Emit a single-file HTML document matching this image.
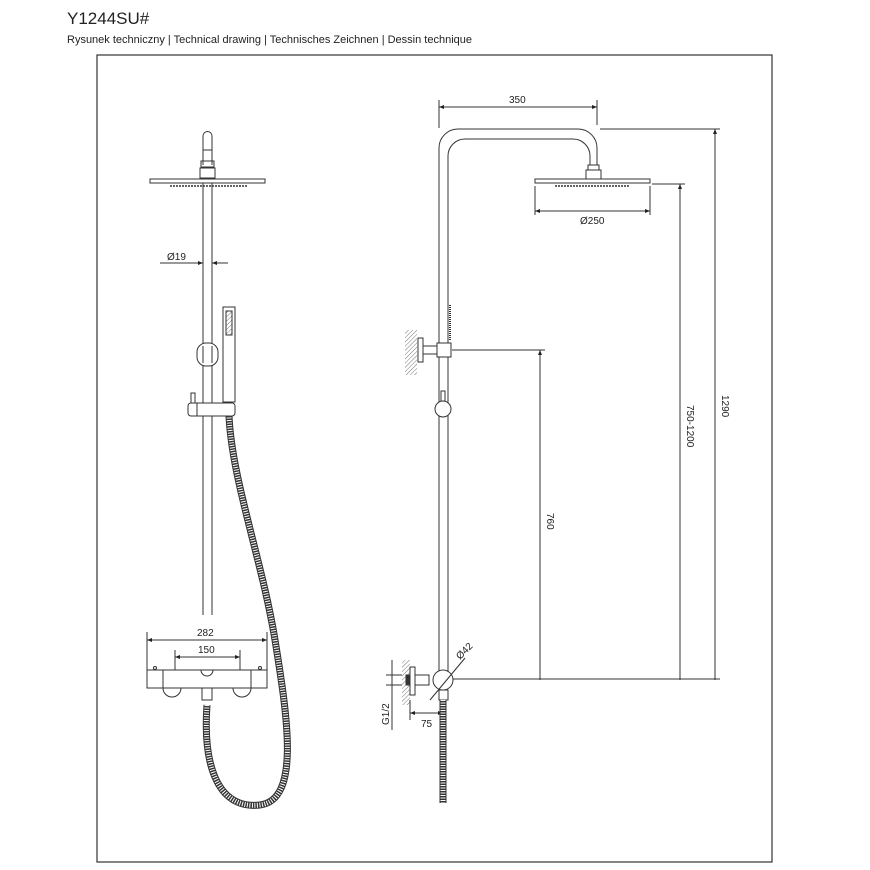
<!DOCTYPE html>
<html><head><meta charset="utf-8"><style>
body{margin:0;background:#fff}
svg{display:block}
text{font-family:"Liberation Sans",sans-serif;fill:#222}
</style></head><body>
<svg width="870" height="870" viewBox="0 0 870 870" xmlns="http://www.w3.org/2000/svg">
<defs>
<marker id="a" viewBox="0 0 10 10" refX="10" refY="5" markerWidth="7" markerHeight="5" orient="auto-start-reverse"><path d="M0,1 L10,5 L0,9 z" fill="#222"/></marker>
<pattern id="h" width="3" height="3" patternUnits="userSpaceOnUse" patternTransform="rotate(45)"><line x1="0" y1="0" x2="0" y2="3" stroke="#777" stroke-width="1"/></pattern>
</defs>
<text x="67" y="24" font-size="17">Y1244SU#</text>
<text x="67" y="43" font-size="11">Rysunek techniczny | Technical drawing | Technisches Zeichnen | Dessin technique</text>
<rect x="97" y="55" width="675" height="807" fill="none" stroke="#333" stroke-width="1.2"/>

<g stroke="#333" stroke-width="1" fill="none">
<!-- LEFT VIEW -->
<path d="M203,165 V136 a4.5,4.5 0 0 1 9,0 V165"/>
<line x1="203" y1="150" x2="212" y2="150"/>
<rect x="201" y="161" width="13" height="6"/>
<rect x="200" y="168" width="15" height="10"/>
<rect x="150" y="179" width="115" height="4"/>
<line x1="170" y1="186" x2="248" y2="186" stroke-dasharray="2 1" stroke-width="1.5"/>
<line x1="203" y1="183" x2="203" y2="615"/>
<line x1="212" y1="183" x2="212" y2="615"/>
<rect x="223" y="307" width="12" height="95"/>
<rect x="226" y="311" width="6" height="24" fill="url(#h)"/>
<rect x="197" y="343" width="21" height="23" rx="9" fill="#fff"/>
<line x1="203" y1="346" x2="203" y2="363"/><line x1="212" y1="346" x2="212" y2="363"/>
<rect x="188" y="403" width="47" height="13" rx="3" fill="#fff"/>
<line x1="197" y1="403" x2="197" y2="416"/>
<rect x="191" y="393" width="4" height="10"/>
<line x1="160" y1="263" x2="200" y2="263"/><line x1="215" y1="263" x2="228" y2="263"/>
<line x1="199" y1="263" x2="203" y2="263" marker-end="url(#a)"/>
<line x1="216" y1="263" x2="212" y2="263" marker-end="url(#a)"/>
<!-- hose left -->
<path d="M207,705 C203,760 215,810 260,805 C300,800 288,720 275,640 C262,560 232,480 229,416" stroke="#333" stroke-width="7"/>
<path d="M207,705 C203,760 215,810 260,805 C300,800 288,720 275,640 C262,560 232,480 229,416" stroke="#fff" stroke-width="5" stroke-dasharray="1 1.5"/>
<!-- thermostat -->
<path d="M163,688 a9,9 0 0 0 18,0 M233,688 a9,9 0 0 0 18,0"/>
<rect x="147" y="670" width="120" height="18" fill="#fff"/>
<path d="M163,670 V688 M251,670 V688"/>
<path d="M201,670 a6,6 0 0 0 12,0"/>
<circle cx="155" cy="668" r="1.5"/><circle cx="260" cy="668" r="1.5"/>
<rect x="202" y="688" width="10" height="12" fill="#fff"/>
<line x1="147" y1="632" x2="147" y2="670"/><line x1="267" y1="632" x2="267" y2="670"/>
<line x1="147" y1="640" x2="267" y2="640" marker-start="url(#a)" marker-end="url(#a)"/>
<line x1="175" y1="650" x2="175" y2="670"/><line x1="240" y1="650" x2="240" y2="670"/>
<line x1="175" y1="657" x2="240" y2="657" marker-start="url(#a)" marker-end="url(#a)"/>

<!-- RIGHT VIEW -->
<path d="M439,680 V148 a19,19 0 0 1 19,-19 H578 a19,19 0 0 1 19,19 V165"/>
<path d="M448,680 V156 a17,17 0 0 1 17,-17 H573 a17,17 0 0 1 17,17 V165"/>
<rect x="588" y="165" width="11" height="5"/>
<rect x="586" y="170" width="15" height="9"/>
<rect x="535" y="179" width="115" height="4"/>
<line x1="555" y1="186" x2="630" y2="186" stroke-dasharray="2 1" stroke-width="1.5"/>
<line x1="450" y1="305" x2="450" y2="340" stroke-width="2" stroke-dasharray="1 1"/>
<rect x="437" y="343" width="14" height="14" fill="#fff"/>
<rect x="423" y="346" width="14" height="8"/>
<rect x="418" y="338" width="5" height="24"/>
<rect x="405" y="330" width="12" height="45" fill="url(#h)" stroke="none"/>
<rect x="441" y="391" width="4" height="10"/>
<circle cx="443" cy="409" r="8" fill="#fff"/>
<!-- dims right -->
<line x1="439" y1="100" x2="439" y2="128"/><line x1="597" y1="100" x2="597" y2="125"/>
<line x1="439" y1="107" x2="597" y2="107" marker-start="url(#a)" marker-end="url(#a)"/>
<line x1="600" y1="129" x2="720" y2="129"/>
<line x1="715" y1="680" x2="715" y2="129" marker-end="url(#a)"/>
<line x1="652" y1="184" x2="685" y2="184"/>
<line x1="680" y1="680" x2="680" y2="184" marker-end="url(#a)"/>
<line x1="452" y1="350" x2="545" y2="350"/>
<line x1="540" y1="680" x2="540" y2="350" marker-end="url(#a)"/>
<line x1="535" y1="186" x2="535" y2="215"/><line x1="650" y1="186" x2="650" y2="215"/>
<line x1="535" y1="211" x2="650" y2="211" marker-start="url(#a)" marker-end="url(#a)"/>
<line x1="453" y1="679" x2="720" y2="679"/>
<!-- bottom elbow -->
<rect x="402" y="660" width="8" height="45" fill="url(#h)" stroke="none"/>
<rect x="410" y="667" width="5" height="28"/>
<rect x="415" y="675" width="14" height="10"/>
<rect x="406" y="675" width="4" height="10" fill="#333"/>
<circle cx="443" cy="680" r="10" fill="#fff"/>
<rect x="439" y="690" width="9" height="10"/>
<line x1="430" y1="700" x2="465" y2="658"/>
<line x1="392" y1="660" x2="392" y2="730"/>
<line x1="386" y1="675" x2="402" y2="675"/><line x1="386" y1="685" x2="402" y2="685"/>
<line x1="410" y1="700" x2="410" y2="720"/>
<line x1="410" y1="713" x2="443" y2="713" marker-start="url(#a)" marker-end="url(#a)"/>
<path d="M443,700 V803" stroke="#333" stroke-width="7"/>
<path d="M443,700 V803" stroke="#fff" stroke-width="5" stroke-dasharray="1 1.5"/>
</g>

<text x="167" y="260" font-size="10">Ø19</text>
<text x="197" y="636" font-size="10">282</text>
<text x="198" y="653" font-size="10">150</text>
<text x="509" y="103" font-size="10">350</text>
<text x="580" y="224" font-size="10">Ø250</text>
<text x="421" y="727" font-size="10">75</text>
<text font-size="10" transform="translate(722,395) rotate(90)">1290</text>
<text font-size="10" transform="translate(687,405) rotate(90)">750-1200</text>
<text font-size="10" transform="translate(547,513) rotate(90)">760</text>
<text font-size="10" transform="translate(389,725) rotate(-90)">G1/2</text>
<text font-size="10" transform="translate(460,660) rotate(-45)">Ø42</text>
</svg>
</body></html>
